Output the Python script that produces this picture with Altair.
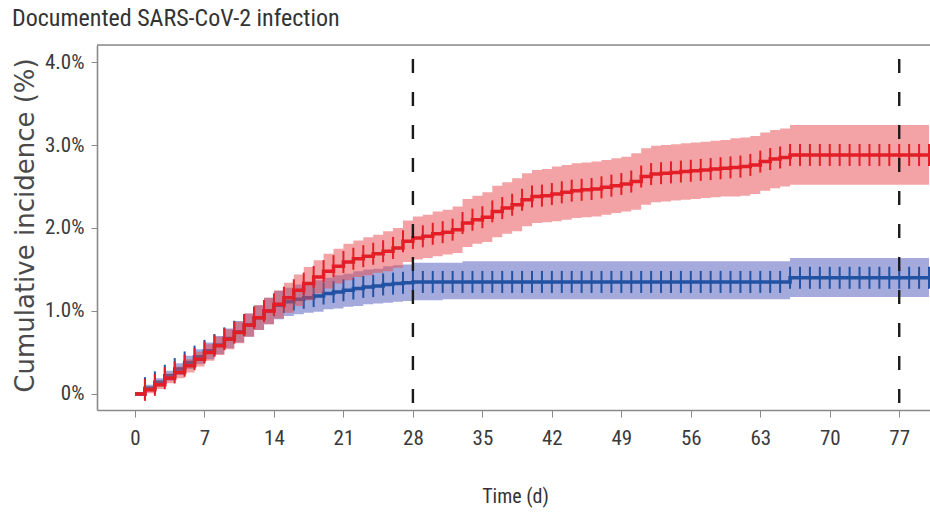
import altair as alt
import pandas as pd

# ---------------- data ----------------
days = list(range(0, 81))

red_mid = [0.00, 0.05, 0.11, 0.19, 0.26, 0.34, 0.42, 0.50, 0.58, 0.66,
           0.74, 0.83, 0.92, 1.00, 1.08, 1.16, 1.25, 1.33, 1.41, 1.48,
           1.54, 1.59, 1.63, 1.66, 1.69, 1.72, 1.76, 1.84, 1.88, 1.90,
           1.93, 1.95, 1.98, 2.06, 2.10, 2.13, 2.20, 2.24, 2.28, 2.34,
           2.38, 2.39, 2.41, 2.43, 2.45, 2.46, 2.47, 2.49, 2.51, 2.53,
           2.56, 2.62, 2.65, 2.66, 2.67, 2.68, 2.69, 2.70, 2.71, 2.72,
           2.73, 2.74, 2.76, 2.80, 2.83, 2.85] + [2.88] * 15
red_lo = [0.00, 0.01, 0.06, 0.13, 0.19, 0.26, 0.33, 0.40, 0.47, 0.54,
          0.61, 0.69, 0.77, 0.84, 0.91, 0.98, 1.06, 1.13, 1.21, 1.27,
          1.33, 1.37, 1.41, 1.43, 1.46, 1.48, 1.52, 1.59, 1.62, 1.64,
          1.66, 1.68, 1.70, 1.77, 1.81, 1.83, 1.89, 1.93, 1.96, 2.02,
          2.06, 2.07, 2.08, 2.10, 2.12, 2.13, 2.14, 2.16, 2.18, 2.20,
          2.22, 2.28, 2.31, 2.32, 2.33, 2.34, 2.35, 2.36, 2.37, 2.38,
          2.38, 2.39, 2.41, 2.45, 2.48, 2.50] + [2.52] * 15
red_hi = [0.02, 0.09, 0.16, 0.25, 0.33, 0.42, 0.51, 0.60, 0.69, 0.78,
          0.87, 0.97, 1.07, 1.16, 1.25, 1.34, 1.44, 1.53, 1.61, 1.69,
          1.75, 1.81, 1.85, 1.89, 1.92, 1.96, 2.00, 2.09, 2.14, 2.16,
          2.20, 2.22, 2.26, 2.35, 2.39, 2.43, 2.51, 2.55, 2.60, 2.66,
          2.70, 2.71, 2.74, 2.76, 2.78, 2.79, 2.80, 2.82, 2.84, 2.86,
          2.90, 2.96, 2.99, 3.00, 3.01, 3.02, 3.03, 3.04, 3.05, 3.06,
          3.08, 3.09, 3.11, 3.15, 3.18, 3.20] + [3.24] * 15

blue_mid = [0.00, 0.07, 0.14, 0.22, 0.30, 0.38, 0.45, 0.52, 0.59, 0.67,
            0.75, 0.83, 0.92, 1.00, 1.07, 1.11, 1.14, 1.16, 1.18, 1.21,
            1.23, 1.25, 1.27, 1.29, 1.30, 1.32, 1.33, 1.34, 1.35] + [1.35] * 37 + [1.40] * 15
blue_lo = [0.00, 0.03, 0.09, 0.16, 0.23, 0.30, 0.36, 0.42, 0.48, 0.55,
           0.62, 0.69, 0.77, 0.84, 0.90, 0.94, 0.96, 0.98, 0.99, 1.02,
           1.03, 1.05, 1.06, 1.08, 1.09, 1.10, 1.11, 1.12] + [1.13] * 3 + [1.14] * 35 + [1.17] * 15
blue_hi = [0.02, 0.11, 0.19, 0.28, 0.37, 0.46, 0.54, 0.62, 0.70, 0.79,
           0.88, 0.97, 1.07, 1.16, 1.24, 1.28, 1.32, 1.34, 1.37, 1.40,
           1.43, 1.45, 1.48, 1.50, 1.51, 1.54, 1.55, 1.56] + [1.58] * 5 + [1.60] * 33 + [1.64] * 15

x_ticks = [0, 7, 14, 21, 28, 35, 42, 49, 56, 63, 70, 77]
y_ticks = [0, 1, 2, 3, 4]
landmark_days = [28, 77]

title_text = "Documented SARS-CoV-2 infection"
x_title = "Time (d)"
y_title = "Cumulative incidence (%)"

# ---------------- styling ----------------
W, H = 833, 365
NARROW = "Roboto Condensed, Liberation Sans"
RED_LINE, RED_BAND = "#e31e26", "#e8474c"
BLUE_LINE, BLUE_BAND = "#2152a3", "#4a55b8"
FRAME = "#8a8a8a"

red_df = pd.DataFrame({"day": days, "mid": red_mid, "lo": red_lo, "hi": red_hi})
blue_df = pd.DataFrame({"day": days, "mid": blue_mid, "lo": blue_lo, "hi": blue_hi})
vline_df = pd.DataFrame({"day": landmark_days})
frame_df = pd.DataFrame({"k": [0]})

x_axis = alt.Axis(values=x_ticks, grid=False, domain=True, domainColor=FRAME, domainWidth=1.6,
                  tickSize=7, tickColor=FRAME, tickWidth=1, labelFont=NARROW, labelFontSize=21,
                  labelColor="#3a3a3a", labelPadding=10, titleFont=NARROW, titleFontSize=20,
                  titleFontWeight="normal", titleColor="#333", titleX=418, titleY=92,
                  titleAlign="center", titleBaseline="alphabetic")
y_axis = alt.Axis(values=y_ticks, grid=False, domain=True, domainColor=FRAME, domainWidth=1.6,
                  tickSize=6, tickColor=FRAME, tickWidth=1, labelFont=NARROW, labelFontSize=21,
                  labelColor="#3a3a3a", labelPadding=7,
                  labelExpr="datum.value == 0 ? '0%' : format(datum.value, '.1f') + '%'",
                  titleFont="DejaVu Sans", titleFontSize=26, titleFontWeight="normal",
                  titleColor="#4a4a4a", titleX=-72, titleY=180, titleAngle=270,
                  titleAlign="center", titleBaseline="middle")

xs = alt.Scale(domain=[-3.83, 80.1], nice=False, zero=False)
ys = alt.Scale(domain=[-0.193, 4.205], nice=False, zero=False)


def X():
    return alt.X("day:Q", scale=xs, axis=x_axis, title=x_title)


def Y(field):
    return alt.Y(field + ":Q", scale=ys, axis=y_axis, title=y_title)


def band(df, color, op):
    return alt.Chart(df).mark_area(interpolate="step-after", color=color, opacity=op).encode(
        x=X(), y=Y("lo"), y2="hi")


def line(df, color):
    return alt.Chart(df).mark_line(interpolate="step-after", color=color, strokeWidth=3.5).encode(
        x=X(), y=Y("mid"))


def ticks(df, color):
    return alt.Chart(df[df["day"] >= 1]).mark_tick(orient="vertical", color=color, size=22,
                                                   thickness=2, opacity=1).encode(
        x=X(), y=Y("mid"))


rules = alt.Chart(vline_df).mark_rule(color="#1a1a1a", strokeWidth=2.4, strokeDash=[14, 19],
                                      strokeDashOffset=19).encode(x=X())
top_border = alt.Chart(frame_df).mark_rule(color=FRAME, strokeWidth=1.6).encode(
    x=alt.value(0), x2=alt.value(W), y=alt.value(0))

chart = alt.layer(
    band(blue_df, BLUE_BAND, 0.5),
    line(blue_df, BLUE_LINE),
    ticks(blue_df, BLUE_LINE),
    band(red_df, RED_BAND, 0.5),
    line(red_df, RED_LINE),
    ticks(red_df, RED_LINE),
    rules,
    top_border,
).properties(
    width=W, height=H,
    title=alt.TitleParams(title_text, anchor="start", font=NARROW, fontSize=24,
                          fontWeight="normal", color="#333", offset=13),
    autosize=alt.AutoSizeParams(type="none"),
    padding={"left": 97, "top": 45, "right": 0, "bottom": 104},
).configure_view(stroke=None).configure(background="white")

chart.save("out.html", embed_options={"renderer": "svg", "actions": False})
